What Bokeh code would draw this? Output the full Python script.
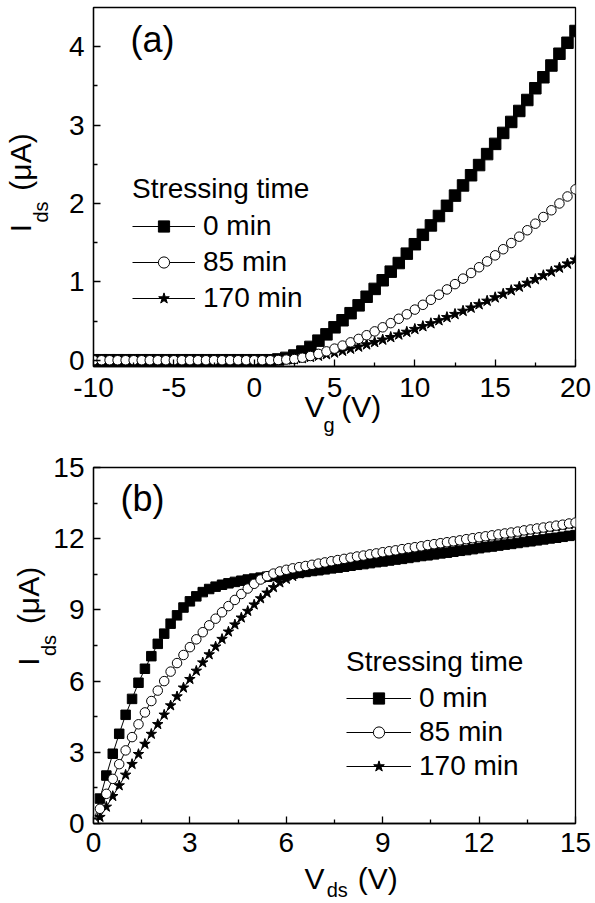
import numpy as np
from bokeh.plotting import figure
from bokeh.layouts import column
from bokeh.models import FixedTicker, Label, Legend, LegendItem, Range1d, LinearAxis
from bokeh.embed import file_html
from bokeh.resources import INLINE

FONT = "Liberation Sans"
NB = "\u00a0"

# ---------------- data, panel (a): transfer curves ----------------
vg = np.round(np.arange(-10.0, 20.001, 0.5), 2)
ids_a_0 = [0.0, 0.0, 0.0, 0.0, 0.0, 0.0, 0.0, 0.0, 0.0, 0.0, 0.0, 0.0,
           0.0, 0.0, 0.0, 0.0, 0.0, 0.0, 0.0, 0.0, 0.0, 0.0, 0.0,
           0.01, 0.03, 0.06, 0.11, 0.17, 0.25, 0.33, 0.42, 0.51, 0.60, 0.70,
           0.81, 0.91, 1.02, 1.13, 1.24, 1.36, 1.48, 1.60, 1.72, 1.84, 1.97,
           2.10, 2.23, 2.36, 2.49, 2.63, 2.76, 2.90, 3.04, 3.18, 3.32, 3.47,
           3.61, 3.76, 3.91, 4.05, 4.20]
ids_a_85 = [0.0, 0.0, 0.0, 0.0, 0.0, 0.0, 0.0, 0.0, 0.0, 0.0, 0.0, 0.0,
            0.0, 0.0, 0.0, 0.0, 0.0, 0.0, 0.0, 0.0, 0.0, 0.0, 0.0,
            0.003, 0.008, 0.015, 0.032, 0.054, 0.081, 0.113, 0.148, 0.187,
            0.228, 0.272, 0.319, 0.368, 0.420, 0.473, 0.529, 0.586, 0.646,
            0.707, 0.771, 0.836, 0.903, 0.971, 1.041, 1.113, 1.186, 1.261,
            1.338, 1.416, 1.495, 1.576, 1.658, 1.742, 1.827, 1.913, 2.000,
            2.089, 2.180]
ids_a_170 = [0.0, 0.0, 0.0, 0.0, 0.0, 0.0, 0.0, 0.0, 0.0, 0.0, 0.0, 0.0,
             0.0, 0.0, 0.0, 0.0, 0.0, 0.0, 0.0, 0.0, 0.0, 0.0, 0.0,
             0.003, 0.008, 0.012, 0.025, 0.040, 0.055, 0.075, 0.096, 0.119,
             0.145, 0.172, 0.200, 0.230, 0.261, 0.293, 0.326, 0.360, 0.396,
             0.432, 0.469, 0.508, 0.547, 0.587, 0.628, 0.669, 0.712, 0.756,
             0.800, 0.845, 0.891, 0.937, 0.985, 1.032, 1.081, 1.129, 1.180,
             1.231, 1.282]

# ---------------- data, panel (b): output curves ----------------
vds = np.round(np.arange(0.0, 15.001, 0.2), 2)
ids_b_0 = [0.0, 1.05, 2.02, 2.94, 3.78, 4.58, 5.25, 5.93, 6.52, 7.05, 7.57,
           8.00, 8.42, 8.77, 9.10, 9.36, 9.57, 9.75, 9.88, 9.98, 10.06,
           10.12, 10.18, 10.23, 10.28, 10.32, 10.36, 10.40, 10.43, 10.46,
           10.49, 10.53, 10.56, 10.60, 10.64, 10.67, 10.71, 10.75, 10.78,
           10.82, 10.86, 10.90, 10.93, 10.97, 11.01, 11.04, 11.08, 11.12,
           11.15, 11.19, 11.23, 11.27, 11.30, 11.34, 11.38, 11.41, 11.45,
           11.49, 11.52, 11.56, 11.60, 11.64, 11.67, 11.71, 11.75, 11.78,
           11.82, 11.86, 11.89, 11.93, 11.97, 12.01, 12.04, 12.08, 12.12,
           12.15]
ids_b_85 = [0.0, 0.62, 1.25, 1.88, 2.50, 3.08, 3.64, 4.18, 4.68, 5.16, 5.60,
            6.00, 6.40, 6.76, 7.10, 7.43, 7.76, 8.06, 8.35, 8.63, 8.90,
            9.16, 9.42, 9.67, 9.90, 10.10, 10.28, 10.42, 10.53, 10.62, 10.69,
            10.75, 10.80, 10.85, 10.90, 10.95, 11.00, 11.05, 11.10, 11.15,
            11.20, 11.25, 11.29, 11.34, 11.38, 11.43, 11.47, 11.51, 11.56,
            11.60, 11.64, 11.68, 11.73, 11.77, 11.81, 11.85, 11.89, 11.93,
            11.98, 12.02, 12.06, 12.10, 12.14, 12.18, 12.22, 12.26, 12.30,
            12.35, 12.39, 12.43, 12.47, 12.51, 12.55, 12.59, 12.64, 12.68]
ids_b_170 = [0.0, 0.27, 0.70, 1.15, 1.60, 2.05, 2.50, 2.92, 3.35, 3.77, 4.18,
             4.58, 4.97, 5.35, 5.72, 6.08, 6.43, 6.78, 7.12, 7.45, 7.77,
             8.08, 8.38, 8.67, 8.95, 9.22, 9.48, 9.72, 9.95, 10.15, 10.30,
             10.42, 10.53, 10.62, 10.70, 10.78, 10.85, 10.92, 10.98, 11.04,
             11.10, 11.16, 11.21, 11.27, 11.32, 11.37, 11.42, 11.47, 11.51,
             11.56, 11.60, 11.64, 11.69, 11.73, 11.77, 11.81, 11.85, 11.89,
             11.94, 11.98, 12.02, 12.06, 12.10, 12.14, 12.18, 12.22, 12.26,
             12.31, 12.35, 12.39, 12.43, 12.47, 12.51, 12.55, 12.60, 12.64]

series_labels = ["0 min", "85 min", "170 min"]
legend_title = "Stressing time"

a_xticks = [-10, -5, 0, 5, 10, 15, 20]
a_xminor = [-7.5, -2.5, 2.5, 7.5, 12.5, 17.5]
a_xtick_text = {-10: "-10", -5: "-5"}
a_yticks = [0, 1, 2, 3, 4]
a_yminor = [0.5, 1.5, 2.5, 3.5]
b_ticks = [0, 3, 6, 9, 12, 15]
b_minor = [1.5, 4.5, 7.5, 10.5, 13.5]


def style(p, xt, xm, yt, ym, xstand, ystand):
    p.outline_line_color = "black"
    p.outline_line_width = 1.3
    p.outline_line_alpha = 1.0
    p.grid.visible = False
    p.background_fill_color = "white"
    p.border_fill_color = "white"
    p.xaxis.ticker = FixedTicker(ticks=xt, minor_ticks=xm)
    p.yaxis.ticker = FixedTicker(ticks=yt, minor_ticks=ym)
    for ax in (p.xaxis[0], p.yaxis[0]):
        ax.axis_line_color = "black"
        ax.axis_line_width = 1.3
        ax.major_tick_line_color = "black"
        ax.major_tick_line_width = 1.3
        ax.minor_tick_line_color = "black"
        ax.minor_tick_line_width = 1.3
        ax.major_tick_in = 7
        ax.major_tick_out = 0
        ax.minor_tick_in = 4
        ax.minor_tick_out = 0
        ax.major_label_text_font = FONT
        ax.major_label_text_font_size = "28px"
        ax.major_label_text_color = "black"
        ax.axis_label_text_font = FONT
        ax.axis_label_text_font_style = "normal"
        ax.axis_label_text_color = "black"
    p.xaxis[0].major_label_standoff = xstand
    p.yaxis[0].major_label_standoff = ystand


def label_axis(p, side, text, size, standoff):
    ax = LinearAxis(ticker=FixedTicker(ticks=[], minor_ticks=[]),
                    axis_line_color=None, major_tick_line_color=None,
                    minor_tick_line_color=None, major_label_standoff=0,
                    major_tick_in=0, major_tick_out=0,
                    minor_tick_in=0, minor_tick_out=0,
                    axis_label=text, axis_label_standoff=standoff,
                    axis_label_text_font=FONT, axis_label_text_font_size=size,
                    axis_label_text_font_style="normal",
                    axis_label_text_color="black")
    p.add_layout(ax, side)


def draw_series(p, x, y0, y85, y170, sq, ci, st):
    l0 = p.line(x, y0, line_color="black", line_width=1)
    m0 = p.scatter(x, y0, marker="square", size=sq, fill_color="black",
                   line_color="black", line_width=1)
    l2 = p.line(x, y170, line_color="black", line_width=1)
    m2 = p.scatter(x, y170, marker="star", size=st, fill_color="black",
                   line_color="black", line_width=1)
    l1 = p.line(x, y85, line_color="black", line_width=1)
    m1 = p.scatter(x, y85, marker="circle", size=ci, fill_color="white",
                   line_color="black", line_width=1)
    return [[l0, m0], [l1, m1], [l2, m2]]


def add_legend(p, rends, loc, row_h, spacing, glyph_w, tstand):
    items = [LegendItem(label=lab, renderers=rr) for lab, rr in zip(series_labels, rends)]
    lg = Legend(items=items, location=loc, title=legend_title,
                title_text_font=FONT, title_text_font_size="28px",
                title_text_font_style="normal", title_text_color="black",
                title_standoff=tstand,
                label_text_font=FONT, label_text_font_size="28px",
                label_text_color="black",
                glyph_width=glyph_w, glyph_height=row_h, label_height=row_h,
                spacing=spacing, padding=0, margin=0, label_standoff=8,
                border_line_color=None, background_fill_alpha=0)
    p.add_layout(lg)


def panel_tag(p, x, y, text):
    p.add_layout(Label(x=x, y=y, x_units="screen", y_units="screen", text=text,
                       text_font=FONT, text_font_size="36px",
                       text_color="black", text_align="left",
                       text_baseline="alphabetic"))


# ---------------- panel (a) ----------------
pa = figure(width=595, height=450, output_backend="svg", toolbar_location=None,
            x_range=Range1d(-10, 20), y_range=Range1d(-0.08, 4.5),
            min_border_left=93, min_border_right=14, min_border_top=7,
            min_border_bottom=84)
style(pa, a_xticks, a_xminor, a_yticks, a_yminor, 11, 9)
pa.xaxis[0].major_label_overrides = a_xtick_text
ra = draw_series(pa, vg, ids_a_0, ids_a_85, ids_a_170, 11.5, 9.5, 11.5)
add_legend(pa, ra, (39, 52), 28, 4, 63, 5)
panel_tag(pa, 37, 327, "(a)")
# x label  V_g (V)
pa.xaxis[0].axis_label = NB * 2 + "V" + NB * 2 + "(V)"
pa.xaxis[0].axis_label_text_font_size = "30px"
pa.xaxis[0].axis_label_standoff = -10
label_axis(pa, "below", "g" + NB * 2, "20px", -12)
# y label  I_ds (uA)
pa.yaxis[0].axis_label = "ds" + NB * 9
pa.yaxis[0].axis_label_text_font_size = "20px"
pa.yaxis[0].axis_label_standoff = 14
label_axis(pa, "left", NB + "I" + NB * 4 + "(\u03bcA)", "30px", -10)

# ---------------- panel (b) ----------------
pb = figure(width=595, height=453, output_backend="svg", toolbar_location=None,
            x_range=Range1d(0, 15), y_range=Range1d(0, 15),
            min_border_left=90, min_border_right=20, min_border_top=17,
            min_border_bottom=80)
style(pb, b_ticks, b_minor, b_ticks, b_minor, 9, 9)
rb = draw_series(pb, vds, ids_b_0, ids_b_85, ids_b_170, 9.5, 9.5, 11)
add_legend(pb, rb, (253, 41), 28, 2, 65, 4)
panel_tag(pb, 27, 325, "(b)")
pb.xaxis[0].axis_label = NB * 4 + "V" + NB * 4 + "(V)"
pb.xaxis[0].axis_label_text_font_size = "30px"
pb.xaxis[0].axis_label_standoff = 7
label_axis(pb, "below", NB + "ds", "20px", -19)
pb.yaxis[0].axis_label = "ds"
pb.yaxis[0].axis_label_text_font_size = "20px"
pb.yaxis[0].axis_label_standoff = -10
label_axis(pb, "left", NB * 7 + "I" + NB * 4 + "(\u03bcA)", "30px", -9)

layout = column(pa, pb)
open("out.html", "w").write(file_html(layout, INLINE))
